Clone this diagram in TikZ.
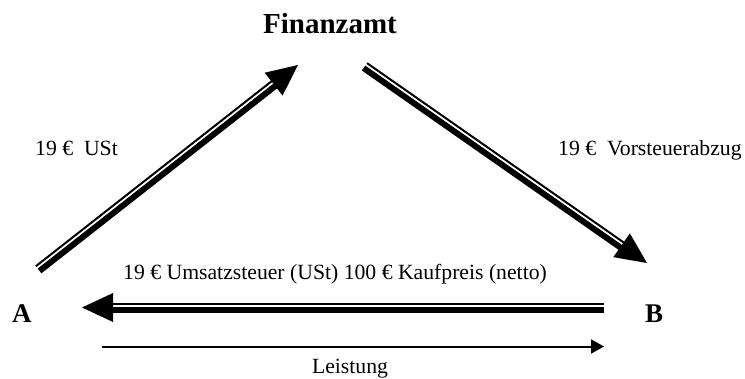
\documentclass[tikz,border=0pt]{standalone}
\usepackage{fontspec}
\setmainfont{Liberation Serif}
\usetikzlibrary{calc,arrows.meta}
% double arrow: thin line on side #3 of the direction, thick line on the other side
\newcommand{\dpfeil}[3]{%
  \coordinate (hk) at ($(#2)!31pt!(#1)$);
  \coordinate (he) at ($(#2)!27pt!(#1)$);
  \draw[line width=2pt] ($(#1)!3.5pt!#3:(#2)$) -- ($(he)!3.5pt!#3:(#2)$);
  \draw[line width=6pt] ($(#1)!-2.5pt!#3:(#2)$) -- ($(he)!-2.5pt!#3:(#2)$);
  \fill (#2) -- ($(hk)!14.5pt!90:(#2)$) -- ($(hk)!14.5pt!-90:(#2)$) -- cycle;
}

\begin{document}
\begin{tikzpicture}[
    x=1pt, y=-1pt,
    lbl/.style={inner sep=0, anchor=base west, font=\fontsize{21.7}{26}\selectfont},
    partei/.style={inner sep=0, anchor=base west, font=\fontsize{27}{32}\selectfont\bfseries},
    leistung/.style={line width=2pt, -{Triangle[length=13pt, width=14pt]}}
]
\useasboundingbox (0,0) rectangle (745,378);

% Parties
\node[partei, anchor=base, font=\fontsize{29}{34}\selectfont\bfseries] (fa) at (330,33) {Finanzamt};
\node[partei] (a) at (12,322) {A};
\node[partei] (b) at (645,322) {B};

% Arrow ends
\coordinate (a-ust) at (38,269);
\coordinate (fa-ust) at (298,65);
\coordinate (fa-vst) at (365,66);
\coordinate (b-vst) at (647,263);
\coordinate (b-kp) at (604,307.5);
\coordinate (a-kp) at (82,307.5);
\coordinate (a-le) at (102,346.5);
\coordinate (b-le) at (604,346.5);

% Money flows
\dpfeil{a-ust}{fa-ust}{90}
\dpfeil{fa-vst}{b-vst}{90}
\dpfeil{b-kp}{a-kp}{-90}

% Service
\draw[leistung] (a-le) -- (b-le);

% Labels
\node[lbl] (ust) at (35,155) {19 €\ \ USt};
\node[lbl] (vst) at (558,155) {19 €\ \ Vorsteuerabzug};
\node[lbl] (kp) at (123,279) {19 € Umsatzsteuer (USt) 100 € Kaufpreis (netto)};
\node[lbl, anchor=base] (le) at (350,373) {Leistung};
\end{tikzpicture}
\end{document}
